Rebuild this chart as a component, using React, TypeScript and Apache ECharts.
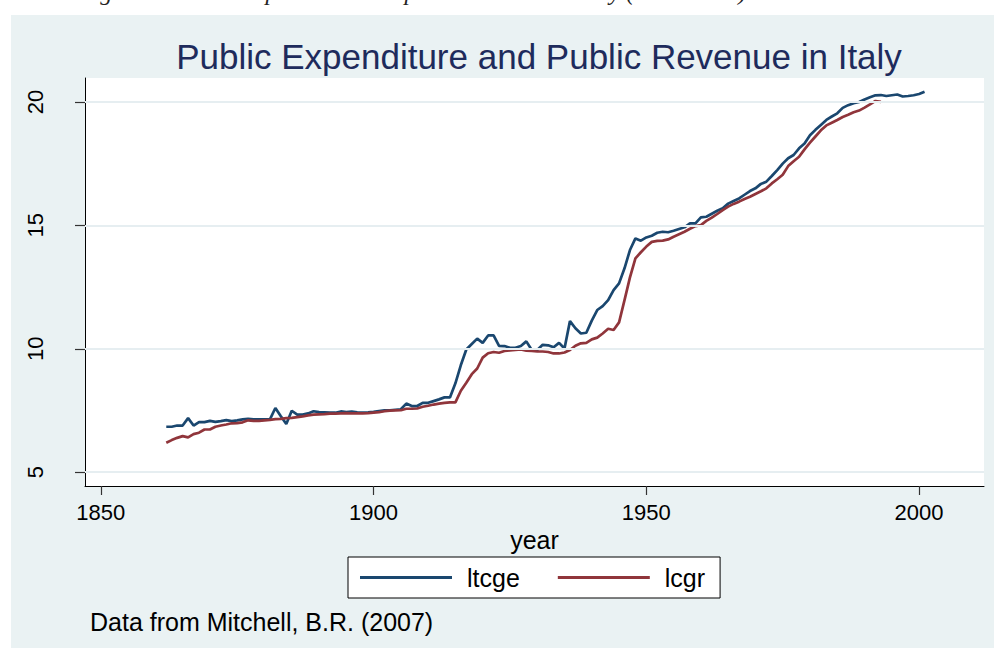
import React, { useEffect, useRef } from "react";
import * as echarts from "echarts";

// ---- data -------------------------------------------------------------
const LTCGE_START = 1862;
const ltcge: number[] = [
  6.84, 6.84, 6.89, 6.89, 7.19, 6.89, 7.03, 7.03, // 1862-1869
  7.08, 7.04, 7.07, 7.11, 7.07, 7.10, 7.14, 7.16, 7.14, 7.14, // 1870s
  7.14, 7.14, 7.60, 7.27, 6.95, 7.49, 7.33, 7.33, 7.38, 7.47, // 1880s
  7.43, 7.42, 7.41, 7.41, 7.46, 7.43, 7.45, 7.42, 7.41, 7.42, // 1890s
  7.44, 7.48, 7.51, 7.51, 7.53, 7.55, 7.78, 7.68, 7.68, 7.81, // 1900s
  7.81, 7.88, 7.95, 8.03, 8.03, 8.60, 9.34, 9.97, 10.19, 10.41, // 1910s
  10.24, 10.54, 10.54, 10.12, 10.11, 10.04, 10.04, 10.11, 10.30, 9.95, // 1920s
  9.95, 10.16, 10.14, 10.06, 10.24, 10.01, 11.12, 10.83, 10.62, 10.65, // 1930s
  11.14, 11.57, 11.73, 11.97, 12.38, 12.65, 13.26, 14.0, 14.47, 14.38, // 1940s
  14.51, 14.58, 14.70, 14.74, 14.72, 14.78, 14.85, 14.92, 15.08, 15.08, // 1950s
  15.32, 15.35, 15.47, 15.59, 15.69, 15.88, 15.99, 16.09, 16.24, 16.39, // 1960s
  16.50, 16.68, 16.77, 17.0, 17.24, 17.5, 17.72, 17.85, 18.12, 18.32, // 1970s
  18.65, 18.87, 19.07, 19.27, 19.41, 19.54, 19.76, 19.87, 19.95, 20.0, // 1980s
  20.1, 20.19, 20.27, 20.28, 20.24, 20.27, 20.30, 20.22, 20.24, 20.27, // 1990s
  20.32, 20.41, // 2000-2001
];

const LCGR_START = 1862;
const lcgr: number[] = [
  6.19, 6.30, 6.39, 6.46, 6.41, 6.54, 6.60, 6.73, // 1862-1869
  6.73, 6.84, 6.89, 6.93, 6.98, 6.99, 7.02, 7.10, 7.08, 7.08, // 1870s
  7.10, 7.12, 7.15, 7.16, 7.19, 7.20, 7.23, 7.26, 7.30, 7.33, // 1880s
  7.34, 7.35, 7.37, 7.37, 7.38, 7.39, 7.38, 7.38, 7.38, 7.39, // 1890s
  7.41, 7.43, 7.47, 7.49, 7.50, 7.51, 7.57, 7.57, 7.58, 7.65, // 1900s
  7.69, 7.74, 7.78, 7.81, 7.83, 7.83, 8.30, 8.62, 8.97, 9.20, // 1910s
  9.64, 9.82, 9.87, 9.84, 9.91, 9.93, 9.95, 9.97, 9.92, 9.91, // 1920s
  9.89, 9.89, 9.87, 9.81, 9.81, 9.85, 9.95, 10.12, 10.22, 10.24, // 1930s
  10.38, 10.45, 10.62, 10.81, 10.76, 11.07, 11.97, 12.89, 13.66, 13.91, // 1940s
  14.14, 14.33, 14.37, 14.38, 14.43, 14.54, 14.64, 14.74, 14.86, 14.97, // 1950s
  15.01, 15.18, 15.31, 15.46, 15.62, 15.76, 15.87, 15.96, 16.07, 16.16, // 1960s
  16.27, 16.38, 16.50, 16.70, 16.87, 17.05, 17.40, 17.60, 17.78, 18.08, // 1970s
  18.35, 18.60, 18.85, 19.05, 19.16, 19.27, 19.39, 19.48, 19.58, 19.65, // 1980s
  19.77, 19.90, 20.04, 20.00, // 1990-1993
];

const xTicks: number[] = [1850, 1900, 1950, 2000];
const yTicks: number[] = [5, 10, 15, 20];

const TITLE = "Public Expenditure and Public Revenue in Italy";
const NOTE = "Data from Mitchell, B.R. (2007)";
const CAPTION = "Figure 1: Public expenditure and public revenue in Italy (1862-2001)";

// ---- component ----------------------------------------------------------
const FONT = "'Liberation Sans', Arial, Helvetica, sans-serif";
const BLUE = "#1a476f";
const RED = "#90353b";
const BG = "#eaf2f3";

export default function App() {
  const ref = useRef<HTMLDivElement>(null);

  useEffect(() => {
    if (!ref.current) return;
    const chart = echarts.init(ref.current, null, { renderer: "svg" });

    const blueData = ltcge.map((v, i) => [LTCGE_START + i, v]);
    const redData = lcgr.map((v, i) => [LCGR_START + i, v]);

    chart.setOption({
      animation: false,
      backgroundColor: "#ffffff",
      grid: {
        show: true,
        left: 85,
        right: 10,
        top: 78,
        bottom: 164,
        backgroundColor: "#ffffff",
        borderWidth: 0,
      },
      graphic: [
        {
          type: "rect",
          z: -10,
          silent: true,
          shape: { x: 11, y: 15, width: 994 - 11, height: 648 - 15 },
          style: { fill: BG },
        },
        {
          type: "text",
          x: 79,
          y: -8,
          silent: true,
          style: {
            text: CAPTION,
            fill: "#222",
            font: "italic 24px 'Liberation Serif', 'Times New Roman', serif",
            verticalAlign: "middle",
            align: "left",
          },
        },
        {
          type: "text",
          x: 539,
          y: 56,
          silent: true,
          style: {
            text: TITLE,
            fill: "#1e2b5c",
            font: `35px ${FONT}`,
            align: "center",
            verticalAlign: "middle",
          },
        },
        {
          type: "text",
          x: 90,
          y: 622,
          silent: true,
          style: {
            text: NOTE,
            fill: "#000",
            font: `25px ${FONT}`,
            align: "left",
            verticalAlign: "middle",
          },
        },
      ],
      legend: {
        left: 348,
        top: 557,
        orient: "horizontal",
        padding: [8, 15, 8, 12],
        itemGap: 38,
        itemWidth: 92,
        itemHeight: 3,
        icon: "rect",
        borderColor: "#000",
        borderWidth: 1,
        borderRadius: 0,
        backgroundColor: "#ffffff",
        textStyle: {
          fontSize: 25,
          fontFamily: FONT,
          color: "#000",
          padding: [0, 0, 0, 10],
        },
        data: ["ltcge", "lcgr"],
      },
      xAxis: {
        type: "value",
        min: 1847.1,
        max: 2011.9,
        name: "year",
        nameLocation: "middle",
        nameGap: 37,
        nameTextStyle: { fontSize: 25, fontFamily: FONT, color: "#000" },
        axisLine: { show: true, onZero: false, lineStyle: { color: "#000", width: 1 } },
        axisTick: {
          show: true,
          length: 9,
          customValues: xTicks,
          lineStyle: { color: "#333", width: 1.2 },
        },
        axisLabel: {
          show: true,
          customValues: xTicks,
          formatter: (v: number) => String(v),
          fontSize: 22,
          fontFamily: FONT,
          color: "#000",
          margin: 15,
        },
        splitLine: { show: false },
      },
      yAxis: {
        type: "value",
        min: 4.44,
        max: 20.97,
        axisLine: { show: true, onZero: false, lineStyle: { color: "#000", width: 1 } },
        axisTick: {
          show: true,
          length: 10,
          customValues: yTicks,
          lineStyle: { color: "#333", width: 1.2 },
        },
        axisLabel: {
          show: true,
          customValues: yTicks,
          formatter: (v: number) => String(v),
          rotate: 90,
          fontSize: 22,
          fontFamily: FONT,
          color: "#000",
          margin: 39,
        },
        splitLine: { show: false },
      },
      series: [
        {
          name: "_grid",
          type: "line",
          z: 1,
          data: [],
          silent: true,
          markLine: {
            silent: true,
            symbol: "none",
            label: { show: false },
            lineStyle: { color: "#e6eef1", width: 2, type: "solid" },
            data: yTicks.map((v) => ({ yAxis: v })),
          },
        },
        {
          name: "ltcge",
          type: "line",
          z: 2,
          data: blueData,
          showSymbol: false,
          color: BLUE,
          lineStyle: { color: BLUE, width: 2.7 },
        },
        {
          name: "lcgr",
          type: "line",
          z: 3,
          data: redData,
          showSymbol: false,
          color: RED,
          lineStyle: { color: RED, width: 2.7 },
        },
      ],
    });

    return () => chart.dispose();
  }, []);

  return (
    <div
      ref={ref}
      style={{ position: "absolute", left: 0, top: 0, width: 994, height: 650 }}
    />
  );
}
